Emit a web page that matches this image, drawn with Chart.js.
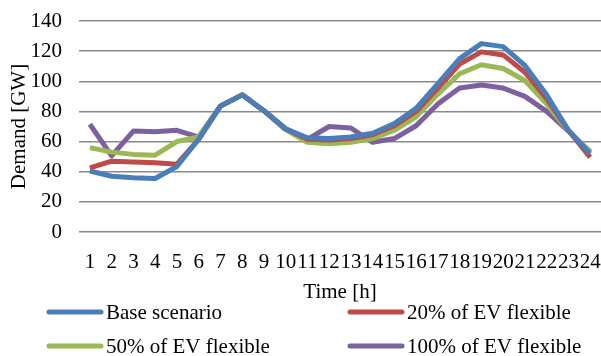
<!DOCTYPE html>
<html>
<head>
<meta charset="utf-8">
<script src="https://cdn.jsdelivr.net/npm/chart.js@4.4.1/dist/chart.umd.min.js"></script>
<style>
  html, body { margin: 0; padding: 0; background: #fff; }
  #wrap { position: relative; width: 601px; height: 356px; }
</style>
</head>
<body>
<div id="wrap"><canvas id="demandChart" width="601" height="356"></canvas></div>
<script>
// hours of the day
const hours = ['1','2','3','4','5','6','7','8','9','10','11','12','13','14','15','16','17','18','19','20','21','22','23','24'];

// demand in GW
const baseScenario = [40.5, 37, 36, 35.5, 43.5, 61.5, 83.5, 91, 80.5, 68.5, 62.5, 62, 63, 65.5, 72, 82, 98.5, 115, 125, 123, 110.5, 91, 67.5, 52];
const ev20 = [42.5, 47, 46.5, 46, 45, 61.5, 83.5, 91, 80.5, 68.5, 61.5, 61, 62, 64.5, 70.5, 80, 95.5, 111.5, 119.5, 117.5, 106, 88.5, 67.5, 49.5];
const ev50 = [56, 53, 51.5, 51, 60, 63, 83.5, 91, 80.5, 68, 59.5, 58.5, 59.5, 62, 67.5, 76.5, 91.5, 105, 111, 108.5, 100.5, 85, 67, 53.5];
const ev100 = [71.5, 50.5, 67, 66.5, 67.5, 63, 83.5, 91, 80.5, 68, 61.5, 70, 69, 59.5, 62, 70.5, 85, 95.5, 97.5, 95.5, 90, 80, 67, 53];

const seriesNames = ['Base scenario', '20% of EV flexible', '50% of EV flexible', '100% of EV flexible'];
const seriesColors = ['#4A7EBB', '#BE4B48', '#98B954', '#7D60A0'];

const font = { family: '"Liberation Serif", "Times New Roman", serif', size: 21 };

function makeSet(i, values) {
    return {
        label: seriesNames[i],
        data: values,
        borderColor: seriesColors[i],
        backgroundColor: seriesColors[i],
        borderWidth: 5,
        pointRadius: 0,
        tension: 0,
        borderJoinStyle: 'round',
        fill: false
    };
}

// legend drawn in two columns like the original
const twoColLegend = {
    id: 'twoColLegend',
    afterDraw(chart) {
        const ctx = chart.ctx;
        const cols = [47, 348];
        const rows = [312, 346];
        ctx.save();
        ctx.font = font.size + 'px ' + font.family;
        ctx.textBaseline = 'middle';
        ctx.textAlign = 'left';
        chart.data.datasets.forEach((ds, i) => {
            const x = cols[i % 2];
            const y = rows[Math.floor(i / 2)];
            ctx.strokeStyle = ds.borderColor;
            ctx.lineWidth = 5;
            ctx.lineCap = 'round';
            ctx.beginPath();
            ctx.moveTo(x + 2, y);
            ctx.lineTo(x + 54, y);
            ctx.stroke();
            ctx.fillStyle = '#000';
            ctx.fillText(ds.label, x + 59, y + 1);
        });
        ctx.restore();
    }
};

const ctx = document.getElementById('demandChart').getContext('2d');
new Chart(ctx, {
    type: 'line',
    data: {
        labels: hours,
        datasets: [
            makeSet(0, baseScenario),
            makeSet(1, ev20),
            makeSet(2, ev50),
            makeSet(3, ev100)
        ]
    },
    options: {
        responsive: false,
        animation: false,
        layout: { padding: { top: 21, right: 0, bottom: 51, left: 0 } },
        plugins: { legend: { display: false }, tooltip: { enabled: false } },
        scales: {
            x: {
                offset: true,
                grid: { display: false, drawTicks: false, tickLength: 0 },
                border: { display: false },
                ticks: { font: font, color: '#000', autoSkip: false, maxRotation: 0, minRotation: 0, padding: 18 },
                title: { display: true, text: 'Time [h]', font: font, color: '#000', padding: { top: 4, bottom: 0 } },
                afterFit(scale) {
                    scale.height = 73;
                    scale.paddingLeft = 0;
                    scale.paddingRight = 0;
                }
            },
            y: {
                min: 0,
                max: 140,
                grid: { color: '#8A8A8A', lineWidth: 1.5, drawTicks: false, tickLength: 0 },
                border: { display: false },
                ticks: { stepSize: 20, font: font, color: '#000', padding: 17 },
                title: { display: true, text: 'Demand [GW]', font: font, color: '#000', padding: { top: 7, bottom: 0 } },
                afterFit(scale) {
                    scale.width = 79;
                    scale.paddingTop = 0;
                    scale.paddingBottom = 0;
                }
            }
        }
    },
    plugins: [twoColLegend]
});
</script>
</body>
</html>
